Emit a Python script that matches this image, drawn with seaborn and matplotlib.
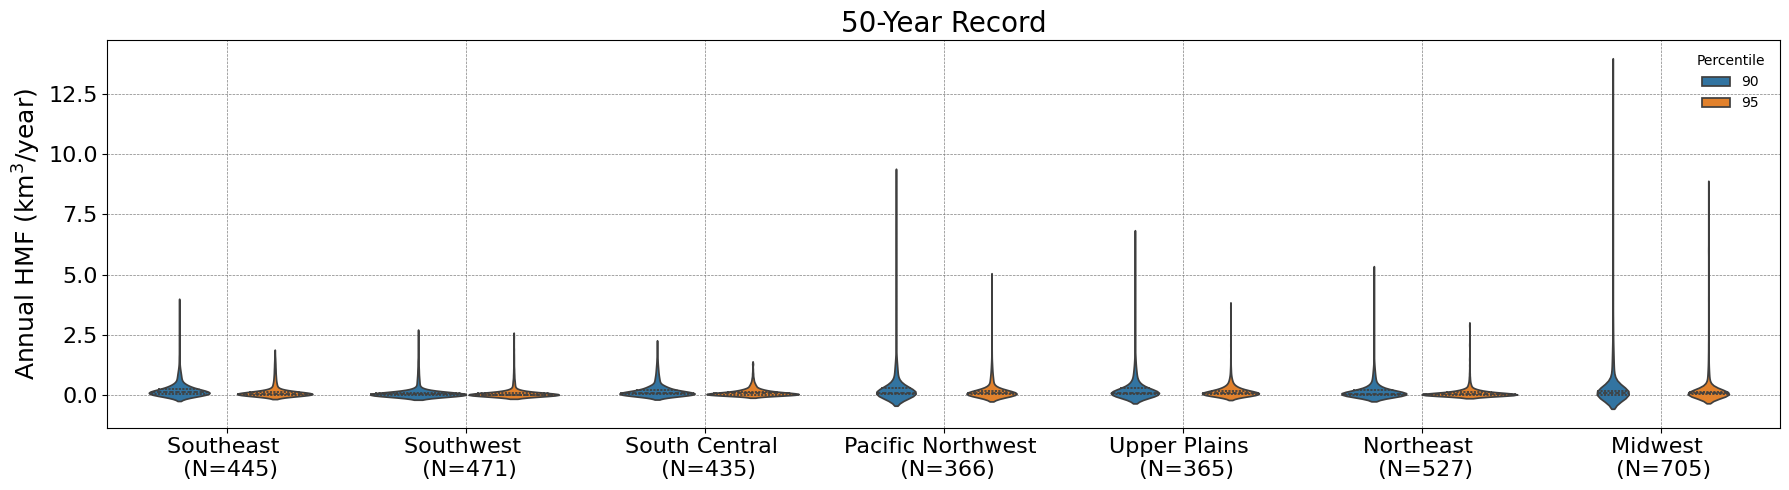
import numpy as np
import pandas as pd
import matplotlib
matplotlib.use("Agg")
import matplotlib.pyplot as plt
import seaborn as sns

regions = ["Southeast", "Southwest", "South Central", "Pacific Northwest",
           "Upper Plains", "Northeast", "Midwest"]
sample_sizes = [445, 471, 435, 366, 365, 527, 705]
percentiles = ["90", "95"]

# Estimated distributions: HMF values and how many sites sit at each value
se_90_values = [0.01, 0.05, 0.1, 0.16, 0.25, 0.4, 0.6, 0.75, 0.9, 1.05, 1.2, 1.4, 1.6, 1.85, 2.1, 2.35, 2.6, 2.9, 3.3, 3.76]
se_90_counts = [62, 76, 78, 71, 60, 48, 13, 10, 8, 5, 3, 2, 2, 1, 1, 1, 1, 1, 1, 1]
se_95_values = [0.01, 0.03, 0.06, 0.1, 0.15, 0.22, 0.35, 0.47, 0.59, 0.71, 0.83, 0.95, 1.07, 1.19, 1.31, 1.43, 1.55, 1.73]
se_95_counts = [67, 93, 85, 65, 45, 30, 13, 10, 7, 6, 5, 4, 4, 3, 3, 2, 2, 1]
sw_90_values = [0.005, 0.02, 0.05, 0.09, 0.15, 0.24, 0.4, 0.53, 0.66, 0.79, 0.92, 1.05, 1.18, 1.31, 1.44, 1.57, 1.7, 1.83, 1.96, 2.1, 2.3, 2.54]
sw_90_counts = [124, 105, 78, 58, 40, 25, 7, 6, 5, 4, 3, 3, 2, 2, 2, 1, 1, 1, 1, 1, 1, 1]
sw_95_values = [0.005, 0.02, 0.05, 0.09, 0.14, 0.22, 0.36, 0.48, 0.6, 0.72, 0.84, 0.96, 1.08, 1.2, 1.32, 1.44, 1.56, 1.7, 1.9, 2.45]
sw_95_counts = [135, 105, 78, 55, 38, 24, 8, 6, 5, 3, 3, 2, 2, 1, 1, 1, 1, 1, 1, 1]
sc_90_values = [0.01, 0.04, 0.08, 0.14, 0.22, 0.35, 0.5, 0.63, 0.76, 0.89, 1.02, 1.15, 1.28, 1.41, 1.54, 1.7, 1.9, 2.1]
sc_90_counts = [73, 76, 70, 64, 52, 45, 12, 10, 8, 6, 5, 4, 3, 2, 2, 1, 1, 1]
sc_95_values = [0.01, 0.03, 0.06, 0.1, 0.15, 0.22, 0.3, 0.4, 0.5, 0.6, 0.7, 0.8, 0.9, 1.0, 1.1, 1.3]
sc_95_counts = [66, 74, 76, 68, 52, 39, 20, 14, 9, 5, 4, 2, 2, 1, 1, 2]
pnw_90_values = [0.01, 0.05, 0.1, 0.18, 0.3, 0.5, 0.85, 1.1, 1.35, 1.6, 1.9, 2.2, 3.2, 4.5, 6.5, 8.95]
pnw_90_counts = [80, 70, 60, 50, 40, 28, 13, 9, 6, 3, 2, 1, 1, 1, 1, 1]
pnw_95_values = [0.01, 0.04, 0.08, 0.13, 0.2, 0.32, 0.55, 0.72, 0.89, 1.06, 1.23, 1.4, 1.6, 1.8, 2.1, 2.5, 3.2, 4.8]
pnw_95_counts = [80, 75, 60, 50, 35, 25, 12, 8, 6, 4, 3, 2, 1, 1, 1, 1, 1, 1]
up_90_values = [0.01, 0.05, 0.1, 0.18, 0.3, 0.5, 0.75, 0.97, 1.2, 1.45, 1.7, 2.0, 2.9, 3.6, 4.5, 6.5]
up_90_counts = [85, 70, 58, 50, 38, 26, 12, 9, 6, 4, 2, 1, 1, 1, 1, 1]
up_95_values = [0.01, 0.04, 0.08, 0.13, 0.2, 0.28, 0.36, 0.46, 0.58, 0.7, 0.82, 0.95, 1.1, 1.3, 1.5, 1.8, 2.1, 2.6, 3.65]
up_95_counts = [61, 68, 62, 52, 40, 28, 17, 11, 8, 5, 3, 2, 2, 1, 1, 1, 1, 1, 1]
ne_90_values = [0.005, 0.03, 0.07, 0.13, 0.22, 0.38, 0.6, 0.76, 0.92, 1.08, 1.24, 1.4, 1.6, 2.1, 2.5, 3.0, 3.8, 4.4, 5.1]
ne_90_counts = [112, 106, 90, 72, 58, 42, 14, 9, 7, 5, 3, 2, 1, 1, 1, 1, 1, 1, 1]
ne_95_values = [0.005, 0.02, 0.05, 0.09, 0.15, 0.22, 0.3, 0.4, 0.5, 0.62, 0.75, 0.9, 1.05, 1.25, 1.5, 2.1, 2.9]
ne_95_counts = [108, 110, 94, 78, 58, 36, 14, 9, 6, 4, 3, 2, 1, 1, 1, 1, 1]
mw_90_values = [0.01, 0.05, 0.1, 0.18, 0.3, 0.5, 0.9, 1.3, 1.7, 2.1, 2.6, 3.1, 3.7, 4.5, 5.5, 7.0, 9.0, 13.4]
mw_90_counts = [180, 160, 110, 86, 40, 40, 24, 18, 13, 9, 7, 5, 3, 3, 2, 1, 3, 1]
mw_95_values = [0.01, 0.04, 0.08, 0.14, 0.22, 0.35, 0.55, 0.75, 0.95, 1.15, 1.4, 1.7, 2.1, 2.6, 3.2, 4.0, 6.0, 8.55]
mw_95_counts = [170, 170, 120, 85, 55, 40, 17, 12, 9, 6, 5, 4, 3, 2, 1, 2, 3, 1]

groups = [
    ("Southeast", "90", se_90_values, se_90_counts), ("Southeast", "95", se_95_values, se_95_counts),
    ("Southwest", "90", sw_90_values, sw_90_counts), ("Southwest", "95", sw_95_values, sw_95_counts),
    ("South Central", "90", sc_90_values, sc_90_counts), ("South Central", "95", sc_95_values, sc_95_counts),
    ("Pacific Northwest", "90", pnw_90_values, pnw_90_counts), ("Pacific Northwest", "95", pnw_95_values, pnw_95_counts),
    ("Upper Plains", "90", up_90_values, up_90_counts), ("Upper Plains", "95", up_95_values, up_95_counts),
    ("Northeast", "90", ne_90_values, ne_90_counts), ("Northeast", "95", ne_95_values, ne_95_counts),
    ("Midwest", "90", mw_90_values, mw_90_counts), ("Midwest", "95", mw_95_values, mw_95_counts),
]
frames = [pd.DataFrame({"Region": r, "Percentile": p, "HMF": np.repeat(v, c)})
          for r, p, v, c in groups]
df = pd.concat(frames, ignore_index=True)

fig, ax = plt.subplots(figsize=(17.9, 4.9), dpi=100)
fig.subplots_adjust(left=107.5 / 1790, right=1780 / 1790, top=1 - 40 / 490, bottom=1 - 427.5 / 490)

sns.violinplot(data=df, x="Region", y="HMF", hue="Percentile", order=regions,
               hue_order=percentiles, palette="tab10", inner="quartile", ax=ax)

ax.set_axisbelow(True)
ax.grid(True, color="gray", linestyle="--", linewidth=0.5)
ax.set_xlim(-0.5, 6.5)
ax.set_ylim(-1.33, 14.72)
ax.set_yticks([0, 2.5, 5, 7.5, 10, 12.5])
ax.set_xticks(range(len(regions)))
ax.set_xticklabels([f"{r} \n (N={n})" for r, n in zip(regions, sample_sizes)], fontsize=16)
ax.tick_params(axis="y", labelsize=16)
ax.set_xlabel("")
ax.set_ylabel("Annual HMF (km$^3$/year)", fontsize=18)
ax.set_title("50-Year Record", fontsize=20)
ax.legend(title="Percentile", loc="upper right", frameon=False, fontsize=10,
          bbox_to_anchor=(0.9985, 0.995))

fig.savefig("out.png", dpi=100)
